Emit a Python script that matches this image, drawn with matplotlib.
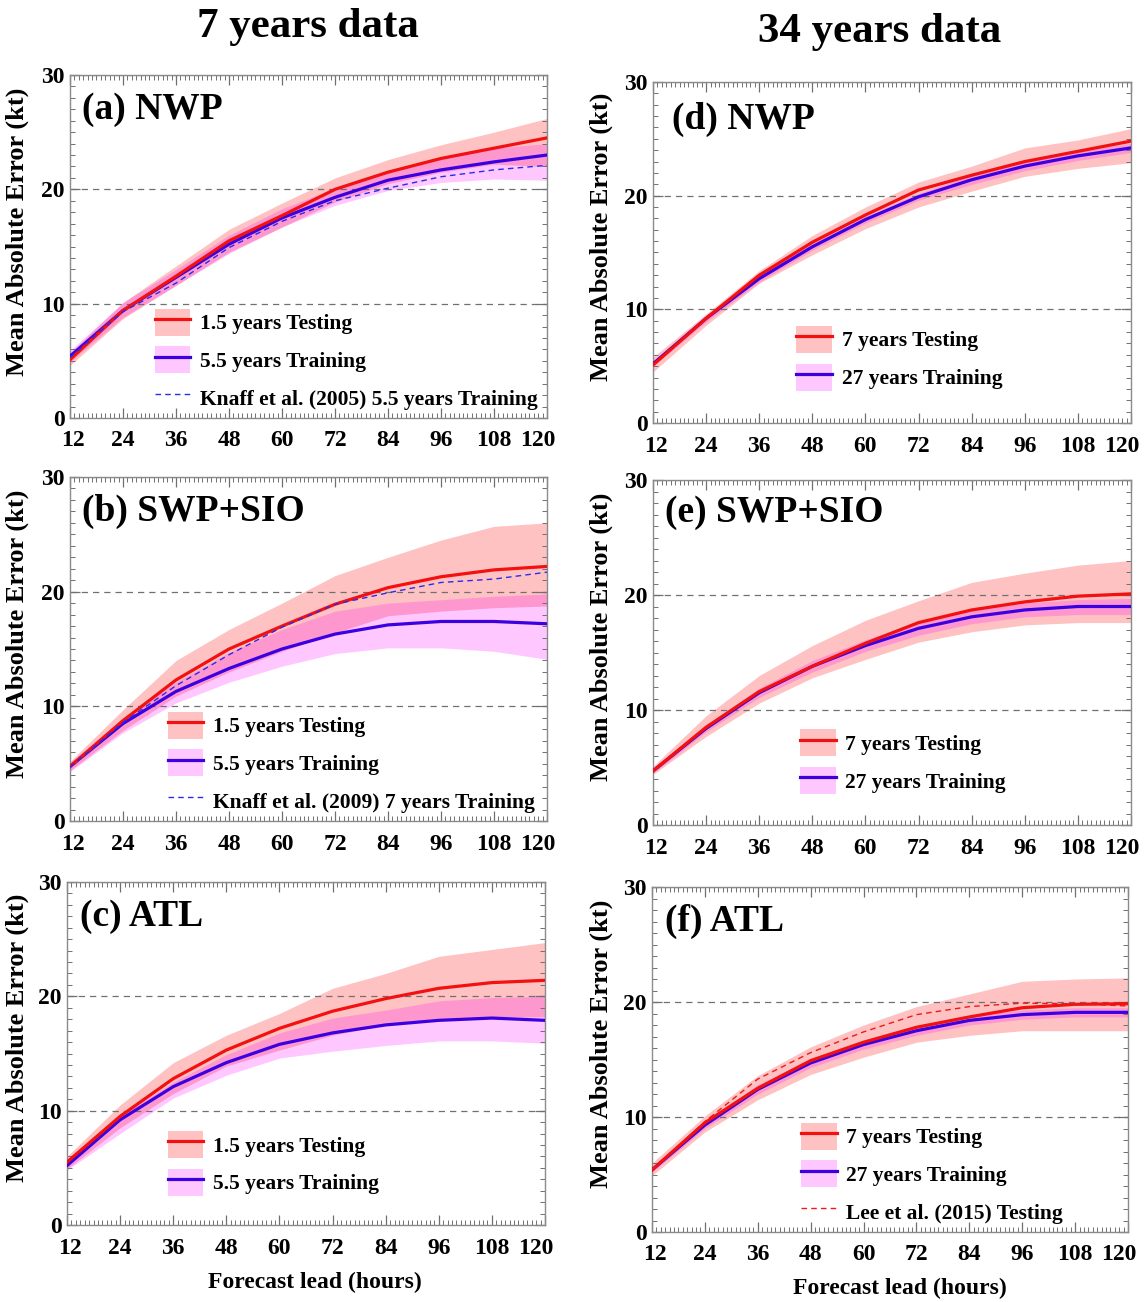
import matplotlib
matplotlib.use('Agg')
import matplotlib.pyplot as plt
from matplotlib.lines import Line2D
from matplotlib.patches import Patch
from matplotlib.ticker import MultipleLocator
from matplotlib.transforms import ScaledTranslation

plt.rcParams['font.family'] = ['Liberation Serif', 'DejaVu Serif']
plt.rcParams['font.weight'] = 'bold'

lead = [12, 24, 36, 48, 60, 72, 84, 96, 108, 120]

# (a) NWP, 7 years data
a_test = [5.1, 9.4, 12.4, 15.5, 17.7, 20.0, 21.5, 22.7, 23.6, 24.5]
a_test_lo = [4.6, 8.7, 11.6, 14.5, 16.7, 18.9, 20.5, 21.5, 22.2, 22.0]
a_test_hi = [5.7, 10.1, 13.3, 16.5, 18.8, 21.0, 22.6, 23.9, 25.0, 26.2]
a_train = [5.4, 9.4, 12.3, 15.2, 17.5, 19.3, 20.8, 21.7, 22.4, 23.0]
a_train_lo = [4.9, 8.8, 11.6, 14.4, 16.7, 18.6, 19.9, 20.6, 20.9, 20.8]
a_train_hi = [5.9, 10.1, 13.0, 16.0, 18.3, 20.1, 21.7, 22.7, 23.6, 24.0]
a_knaff = [5.3, 9.3, 11.8, 14.9, 17.2, 19.0, 20.1, 21.1, 21.7, 22.1]

# (b) SWP+SIO, 7 years data
b_test = [4.75, 8.75, 12.3, 15.0, 17.0, 18.9, 20.35, 21.3, 21.9, 22.2]
b_test_lo = [4.4, 7.9, 10.9, 13.0, 14.8, 16.4, 17.9, 18.3, 18.6, 18.75]
b_test_hi = [5.2, 9.7, 14.0, 16.7, 19.0, 21.4, 23.0, 24.5, 25.7, 26.0]
b_train = [4.75, 8.5, 11.3, 13.3, 15.0, 16.3, 17.1, 17.4, 17.4, 17.2]
b_train_lo = [4.3, 7.7, 10.3, 12.1, 13.5, 14.6, 15.1, 15.1, 14.8, 14.1]
b_train_hi = [5.1, 9.0, 12.1, 14.7, 16.7, 18.3, 19.0, 19.3, 19.6, 19.8]
b_knaff = [4.7, 8.6, 11.8, 14.5, 16.9, 18.9, 19.9, 20.8, 21.1, 21.7]

# (c) ATL, 7 years data
c_test = [5.5, 9.5, 12.8, 15.3, 17.2, 18.7, 19.8, 20.7, 21.2, 21.4]
c_test_lo = [4.9, 8.5, 11.5, 13.9, 15.3, 16.6, 17.5, 18.0, 18.2, 18.2]
c_test_hi = [6.0, 10.5, 14.2, 16.6, 18.5, 20.7, 22.0, 23.5, 24.1, 24.7]
c_train = [5.2, 9.2, 12.1, 14.2, 15.8, 16.8, 17.5, 17.9, 18.1, 17.9]
c_train_lo = [4.8, 8.0, 11.1, 13.1, 14.6, 15.2, 15.7, 16.1, 16.1, 15.9]
c_train_hi = [5.7, 9.5, 12.5, 14.9, 16.8, 18.1, 18.8, 19.6, 19.9, 20.0]

# (d) NWP, 34 years data
d_test = [5.1, 9.2, 13.0, 15.9, 18.3, 20.5, 21.8, 23.0, 23.9, 24.8]
d_test_lo = [4.5, 8.6, 12.3, 14.8, 17.1, 19.0, 20.4, 21.7, 22.4, 22.9]
d_test_hi = [5.8, 9.6, 13.4, 16.5, 19.0, 21.2, 22.6, 24.2, 24.9, 25.9]
d_train = [5.2, 9.2, 12.7, 15.5, 17.9, 19.9, 21.4, 22.6, 23.5, 24.2]
d_train_lo = [5.0, 8.9, 12.4, 15.2, 17.6, 19.6, 21.0, 22.2, 23.1, 23.8]
d_train_hi = [5.4, 9.5, 13.0, 15.8, 18.2, 20.2, 21.8, 23.0, 23.9, 24.6]

# (e) SWP+SIO, 34 years data
e_test = [4.7, 8.5, 11.6, 13.8, 15.8, 17.6, 18.7, 19.4, 19.9, 20.1]
e_test_lo = [4.4, 7.7, 10.6, 12.8, 14.4, 15.9, 16.8, 17.4, 17.6, 17.6]
e_test_hi = [5.1, 9.5, 13.0, 15.6, 17.8, 19.5, 21.1, 21.9, 22.6, 23.0]
e_train = [4.7, 8.4, 11.5, 13.8, 15.6, 17.1, 18.1, 18.7, 19.0, 19.0]
e_train_lo = [4.5, 8.1, 11.1, 13.3, 15.1, 16.5, 17.5, 18.1, 18.3, 18.3]
e_train_hi = [4.9, 8.7, 11.9, 14.3, 16.1, 17.7, 18.7, 19.3, 19.6, 19.7]

# (f) ATL, 34 years data
f_test = [5.4, 9.5, 12.5, 14.9, 16.5, 17.8, 18.7, 19.5, 19.8, 19.85]
f_test_lo = [4.9, 8.7, 11.5, 13.7, 15.2, 16.5, 17.1, 17.5, 17.5, 17.5]
f_test_hi = [6.0, 10.1, 13.6, 16.1, 18.0, 19.6, 20.7, 21.8, 22.0, 22.1]
f_train = [5.4, 9.3, 12.4, 14.7, 16.3, 17.5, 18.4, 18.9, 19.1, 19.1]
f_train_lo = [5.2, 9.0, 12.0, 14.3, 15.9, 17.1, 18.0, 18.5, 18.7, 18.7]
f_train_hi = [5.6, 9.6, 12.8, 15.1, 16.7, 17.9, 18.8, 19.3, 19.5, 19.5]
f_lee = [5.4, 9.6, 13.3, 15.6, 17.4, 18.9, 19.6, 19.9, 19.85, 19.65]

TEST_FILL = (1.0, 0.0, 0.0, 0.24)
TRAIN_FILL = (1.0, 0.0, 1.0, 0.22)
RED = '#f21010'
BLUE = '#3a00e0'

W, H = 1146, 1302


def px_axes(fig, left, right, top, bottom):
    return fig.add_axes([left / W, 1 - bottom / H, (right - left) / W, (bottom - top) / H])


def plot_panel(ax, title, title_xy, test, test_lo, test_hi, train, train_lo, train_hi,
               labels, ref=None, ref_color=None, ref_label=None, leg_xy=(0.2, 0.03)):
    ax.fill_between(lead, test_lo, test_hi, color=TEST_FILL, lw=0)
    ax.fill_between(lead, train_lo, train_hi, color=TRAIN_FILL, lw=0)
    for yv in (10, 20, 30):
        ax.axhline(yv, color='#707070', lw=0.9, dashes=(5, 4), zorder=1)
    if ref is not None:
        ax.plot(lead, ref, color=ref_color, lw=1.0, dashes=(4, 3), zorder=4)
    ax.plot(lead, train, color=BLUE, lw=2.3, zorder=3)
    ax.plot(lead, test, color=RED, lw=2.3, zorder=3)

    ax.set_xlim(12, 120)
    ax.set_ylim(0, 30)
    ax.set_xticks(lead)
    ax.set_yticks([0, 10, 20, 30])
    ax.xaxis.set_minor_locator(MultipleLocator(1))
    ax.yaxis.set_minor_locator(MultipleLocator(1))
    ax.tick_params(which='both', direction='in', top=True, right=True, color='#707070',
                   labelsize=17)
    ax.tick_params(which='major', length=7, width=0.9)
    ax.tick_params(which='minor', length=3.5, width=0.7)
    ax.tick_params(axis='x', pad=9)
    ax.tick_params(axis='y', pad=4)
    for s in ax.spines.values():
        s.set_color('#8a8a8a')
        s.set_linewidth(1.0)

    # the end labels sit a little inward, as in the original
    ticks = ax.xaxis.get_major_ticks()
    ticks[0].label1.set_transform(ticks[0].label1.get_transform()
                                  + ScaledTranslation(3 / 100, 0, ax.figure.dpi_scale_trans))
    ticks[-1].label1.set_transform(ticks[-1].label1.get_transform()
                                   + ScaledTranslation(-9 / 100, 0, ax.figure.dpi_scale_trans))

    ax.text(title_xy[0], title_xy[1], title, transform=ax.transAxes, fontsize=27,
            fontweight='bold', ha='left', va='center')

    handles = [
        (Patch(facecolor=TEST_FILL, edgecolor='none'), Line2D([], [], color=RED, lw=2.3)),
        (Patch(facecolor=TRAIN_FILL, edgecolor='none'), Line2D([], [], color=BLUE, lw=2.3)),
    ]
    if ref is not None:
        handles.append(Line2D([], [], color=ref_color, lw=1.0, dashes=(4, 3)))
        labels = labels + [ref_label]
    ax.legend(handles, labels, loc='lower left', bbox_to_anchor=leg_xy, frameon=False,
              borderpad=0, borderaxespad=0, handlelength=1.65, handleheight=1.55,
              handletextpad=0.45, labelspacing=0.5, prop={'size': 15.5, 'weight': 'bold'})


fig = plt.figure(figsize=(W / 100, H / 100), dpi=100)

ax_a = px_axes(fig, 70, 547, 75, 418)
ax_b = px_axes(fig, 70, 547, 477, 821)
ax_c = px_axes(fig, 67, 545, 882, 1225)
ax_d = px_axes(fig, 653, 1131, 82, 423)
ax_e = px_axes(fig, 653, 1131, 480, 825)
ax_f = px_axes(fig, 652, 1128, 887, 1232)

short = ['1.5 years Testing', '5.5 years Training']
long_ = ['7 years Testing', '27 years Training']

plot_panel(ax_a, '(a) NWP', (0.025, 0.9), a_test, a_test_lo, a_test_hi,
           a_train, a_train_lo, a_train_hi, short, ref=a_knaff, ref_color='#2a2af0',
           ref_label='Knaff et al. (2005) 5.5 years Training', leg_xy=(0.178, 0.02))
plot_panel(ax_b, '(b) SWP+SIO', (0.025, 0.9), b_test, b_test_lo, b_test_hi,
           b_train, b_train_lo, b_train_hi, short, ref=b_knaff, ref_color='#2a2af0',
           ref_label='Knaff et al. (2009) 7 years Training', leg_xy=(0.205, 0.02))
plot_panel(ax_c, '(c) ATL', (0.027, 0.9), c_test, c_test_lo, c_test_hi,
           c_train, c_train_lo, c_train_hi, short, leg_xy=(0.211, 0.085))
plot_panel(ax_d, '(d) NWP', (0.04, 0.889), d_test, d_test_lo, d_test_hi,
           d_train, d_train_lo, d_train_hi, long_, leg_xy=(0.30, 0.095))
plot_panel(ax_e, '(e) SWP+SIO', (0.025, 0.907), e_test, e_test_lo, e_test_hi,
           e_train, e_train_lo, e_train_hi, long_, leg_xy=(0.308, 0.09))
plot_panel(ax_f, '(f) ATL', (0.027, 0.9), f_test, f_test_lo, f_test_hi,
           f_train, f_train_lo, f_train_hi, long_, ref=f_lee, ref_color='#f01818',
           ref_label='Lee et al. (2015) Testing', leg_xy=(0.313, 0.02))

# column titles
fig.text(308 / W, 1 - 27 / H, '7 years data', fontsize=31, fontweight='bold',
         ha='center', va='center')
fig.text(880 / W, 1 - 32 / H, '34 years data', fontsize=31, fontweight='bold',
         ha='center', va='center')

# y labels
for x, yc in ((17, 232), (17, 634), (17, 1038), (601, 237), (601, 637), (601, 1044)):
    fig.text(x / W, 1 - yc / H, 'Mean Absolute Error (kt)', rotation=90, fontsize=19,
             fontweight='bold', ha='center', va='center')

# x labels
fig.text(315 / W, 1 - 1282 / H, 'Forecast lead (hours)', fontsize=17, fontweight='bold',
         ha='center', va='center')
fig.text(900 / W, 1 - 1288 / H, 'Forecast lead (hours)', fontsize=17, fontweight='bold',
         ha='center', va='center')

fig.savefig('out.png', dpi=100)
